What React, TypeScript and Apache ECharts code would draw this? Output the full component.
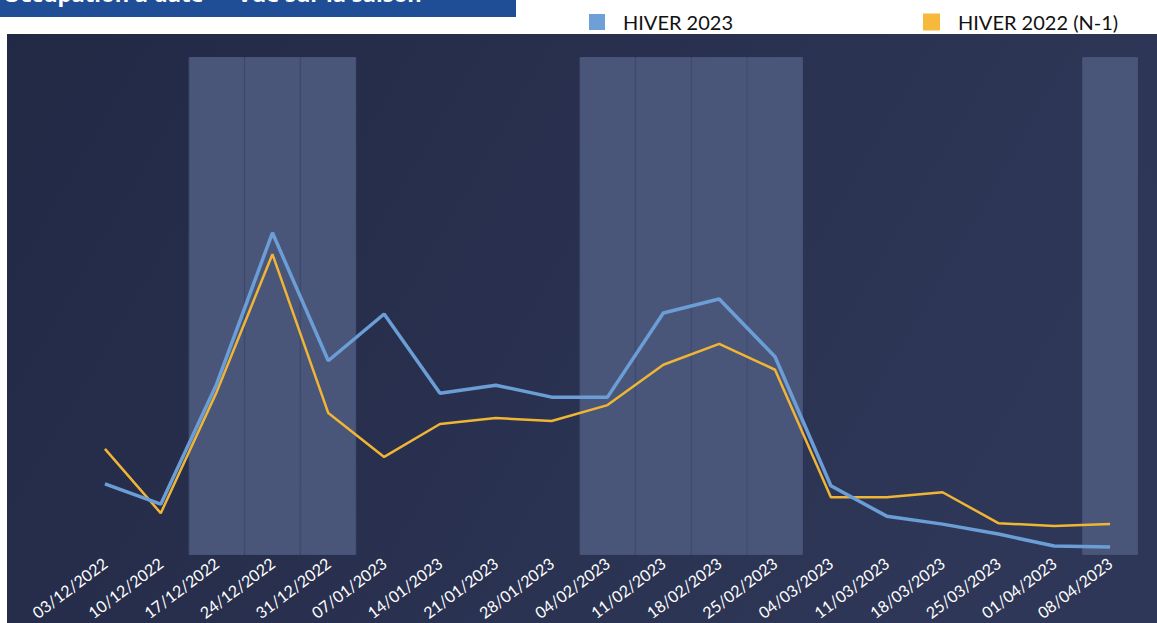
import React, { useEffect, useRef } from "react";
import * as echarts from "echarts";

const weeks = [
  "03/12/2022", "10/12/2022", "17/12/2022", "24/12/2022", "31/12/2022",
  "07/01/2023", "14/01/2023", "21/01/2023", "28/01/2023", "04/02/2023",
  "11/02/2023", "18/02/2023", "25/02/2023", "04/03/2023", "11/03/2023",
  "18/03/2023", "25/03/2023", "01/04/2023", "08/04/2023",
];

const hiver2023 = [
  14.3, 10.2, 34.3, 64.7, 39.0, 48.4, 32.5, 34.1, 31.7, 31.7,
  48.6, 51.4, 39.8, 13.9, 7.8, 6.2, 4.2, 1.8, 1.6,
];

const hiver2022 = [
  21.3, 8.4, 32.7, 60.4, 28.5, 19.7, 26.3, 27.5, 26.9, 30.1,
  38.2, 42.4, 37.2, 11.6, 11.6, 12.6, 6.4, 5.8, 6.2,
];

const holidayWeeks = [
  "17/12/2022", "24/12/2022", "31/12/2022",
  "04/02/2023", "11/02/2023", "18/02/2023", "25/02/2023",
  "08/04/2023",
];

const yMax = 100;

export default function App() {
  const ref = useRef<HTMLDivElement>(null);

  useEffect(() => {
    if (!ref.current) return;
    const chart = echarts.init(ref.current, undefined, { renderer: "svg" });
    const shade = weeks.map((w) => (holidayWeeks.includes(w) ? yMax : "-"));
    chart.setOption({
      animation: false,
      backgroundColor: "#ffffff",
      graphic: [
        {
          type: "rect",
          shape: { x: 0, y: 0, width: 516, height: 17 },
          style: { fill: "#1f4e97" },
          z: -10,
        },
        {
          type: "text",
          x: 3,
          y: 4,
          style: {
            text: "Occupation à date  –  Vue sur la saison",
            fill: "#ffffff",
            font: "bold 22px 'Open Sans'",
            verticalAlign: "bottom",
          },
          z: -9,
        },
        {
          type: "rect",
          shape: { x: 7, y: 34, width: 1150, height: 589 },
          style: {
            fill: new echarts.graphic.LinearGradient(0, 0, 1, 0.3, [
              { offset: 0, color: "#222945" },
              { offset: 1, color: "#2f3758" },
            ]),
          },
          z: -10,
        },
      ],
      legend: [
        {
          data: ["HIVER 2023"],
          left: 584,
          top: 7,
          itemWidth: 16,
          itemHeight: 16,
          icon: "rect",
          textStyle: {
            color: "#111111",
            fontSize: 20,
            fontFamily: "Lato",
            padding: [0, 0, 0, 13],
          },
        },
        {
          data: ["HIVER 2022 (N-1)"],
          left: 918,
          top: 7,
          itemWidth: 17,
          itemHeight: 17,
          icon: "rect",
          textStyle: {
            color: "#111111",
            fontSize: 20,
            fontFamily: "Lato",
            padding: [0, 0, 0, 13],
          },
        },
      ],
      grid: { left: 77, right: 19, top: 57, bottom: 68, containLabel: false },
      xAxis: {
        type: "category",
        data: weeks,
        boundaryGap: true,
        axisLine: { show: false },
        axisTick: { show: false },
        axisLabel: {
          color: "#ffffff",
          fontSize: 16,
          fontFamily: "Lato",
          rotate: 37,
          margin: 6,
          interval: 0,
        },
      },
      yAxis: {
        type: "value",
        min: 0,
        max: yMax,
        show: false,
      },
      series: [
        {
          name: "shade",
          type: "bar",
          data: shade,
          barWidth: "100%",
          barGap: "-100%",
          silent: true,
          itemStyle: {
            color: "#4a5679",
            borderColor: "#465276",
            borderWidth: 1,
          },
          z: 1,
        },
        {
          name: "HIVER 2022 (N-1)",
          type: "line",
          data: hiver2022,
          symbol: "none",
          color: "#f5b833",
          lineStyle: { color: "#f0b535", width: 2.5 },
          itemStyle: { color: "#f6b93b" },
          z: 3,
        },
        {
          name: "HIVER 2023",
          type: "line",
          data: hiver2023,
          symbol: "none",
          color: "#6ea0d8",
          lineStyle: { color: "#6b9ed6", width: 3.5 },
          itemStyle: { color: "#6ea0d8" },
          z: 4,
        },
      ],
    });
    return () => chart.dispose();
  }, []);

  return (
    <div
      ref={ref}
      style={{ position: "absolute", left: 0, top: 0, width: 1157, height: 623 }}
    />
  );
}
